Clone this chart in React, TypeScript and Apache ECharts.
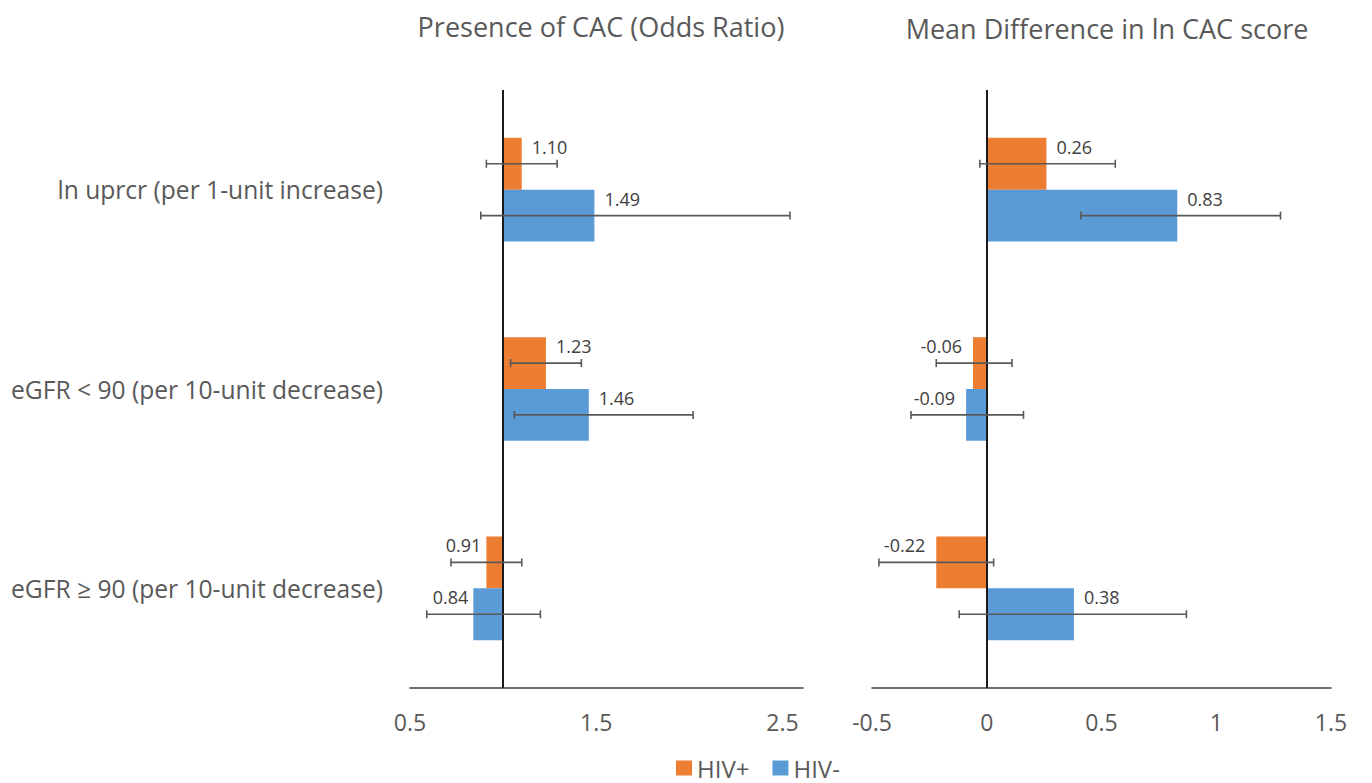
import React, { useEffect, useRef } from 'react';
import * as echarts from 'echarts';

// ---------- data ----------
const categories = [
  'ln uprcr (per 1-unit increase)',
  'eGFR < 90 (per 10-unit decrease)',
  'eGFR ≥ 90 (per 10-unit decrease)',
];
const seriesNames = ['HIV+', 'HIV-'];
const panelTitles = ['Presence of CAC (Odds Ratio)', 'Mean Difference in ln CAC score'];

// Odds ratios (left panel)
const orHivPos = [1.1, 1.23, 0.91];
const orHivPosLo = [0.91, 1.04, 0.72];
const orHivPosHi = [1.29, 1.42, 1.1];
const orHivNeg = [1.49, 1.46, 0.84];
const orHivNegLo = [0.88, 1.06, 0.59];
const orHivNegHi = [2.54, 2.02, 1.2];
const orTickLabels = [0.5, 1.5, 2.5];
const orBase = 1;

// Mean difference (right panel)
const mdHivPos = [0.26, -0.06, -0.22];
const mdHivPosLo = [-0.03, -0.22, -0.47];
const mdHivPosHi = [0.56, 0.11, 0.03];
const mdHivNeg = [0.83, -0.09, 0.38];
const mdHivNegLo = [0.41, -0.33, -0.12];
const mdHivNegHi = [1.28, 0.16, 0.87];
const mdTickLabels = [-0.5, 0, 0.5, 1, 1.5];

// ---------- styles ----------
const FONT = '"Open Sans", "Noto Sans", sans-serif';
const ORANGE = '#ED7D31';
const BLUE = '#5B9BD5';
const GRAY = '#595959';
const DARK = '#404040';

const renderErr = (_params: any, api: any) => {
  const cat = api.value(0);
  const lo = api.value(1);
  const hi = api.value(2);
  const g = api.value(3);
  const a = api.coord([lo, cat]);
  const b = api.coord([hi, cat]);
  const band = api.size([0, 1])[1];
  const y = a[1] + (g === 0 ? -1 : 1) * band * 0.13;
  const cap = 4;
  const style = { stroke: GRAY, lineWidth: 1.6 };
  return {
    type: 'group',
    children: [
      { type: 'line', shape: { x1: a[0], y1: y, x2: b[0], y2: y }, style },
      { type: 'line', shape: { x1: a[0], y1: y - cap, x2: a[0], y2: y + cap }, style },
      { type: 'line', shape: { x1: b[0], y1: y - cap, x2: b[0], y2: y + cap }, style },
    ],
  };
};

const barLabel = {
  show: true,
  fontSize: 18,
  color: DARK,
  fontFamily: FONT,
  offset: [0, -17],
};

const zeroLine = {
  silent: true,
  symbol: ['none', 'none'],
  label: { show: false },
  lineStyle: { color: '#1a1a1a', width: 2, type: 'solid' },
  data: [{ xAxis: 0 }],
};

function barData(vals: number[], base: number, negDist: number) {
  return vals.map((v) => ({
    value: v - base,
    label: { position: v >= base ? 'right' : 'left', distance: v >= base ? 10 : negDist },
  }));
}

function errData(lo: number[], hi: number[], base: number, g: number) {
  return lo.map((l, i) => [i, l - base, hi[i] - base, g]);
}

export default function App() {
  const ref = useRef<HTMLDivElement>(null);

  useEffect(() => {
    if (!ref.current) return;
    const chart = echarts.init(ref.current, undefined, { renderer: 'svg' });

    const xAxisCommon = {
      type: 'value',
      interval: 0.5,
      splitLine: { show: false },
      axisTick: { show: false },
      axisLine: { show: true, onZero: false, lineStyle: { color: DARK, width: 1.5 } },
    };
    const yAxisCommon = {
      type: 'category',
      data: categories,
      inverse: true,
      axisLine: { show: false },
      axisTick: { show: false },
    };

    const option: any = {
      animation: false,
      backgroundColor: '#ffffff',
      textStyle: { fontFamily: FONT },
      graphic: [
        {
          type: 'text',
          x: 601,
          y: 26,
          style: {
            text: panelTitles[0],
            fontSize: 27,
            fill: GRAY,
            fontFamily: FONT,
            align: 'center',
            verticalAlign: 'middle',
          },
        },
        {
          type: 'text',
          x: 1107,
          y: 28,
          style: {
            text: panelTitles[1],
            fontSize: 27,
            fill: GRAY,
            fontFamily: FONT,
            align: 'center',
            verticalAlign: 'middle',
          },
        },
      ],
      legend: {
        data: seriesNames,
        left: 676,
        top: 756,
        padding: 0,
        icon: 'rect',
        itemWidth: 16,
        itemHeight: 15,
        itemGap: 23,
        textStyle: { fontSize: 24, color: GRAY, fontFamily: FONT },
      },
      grid: [
        { left: 410, top: 90, width: 393, height: 598 },
        { left: 872, top: 90, width: 459, height: 598 },
      ],
      xAxis: [
        {
          ...xAxisCommon,
          gridIndex: 0,
          min: -0.5,
          max: 1.61,
          axisLabel: {
            margin: 22,
            fontSize: 23,
            color: GRAY,
            fontFamily: FONT,
            formatter: (val: number) => {
              const v = val + orBase;
              const t = orTickLabels.find((tk) => Math.abs(tk - v) < 1e-6);
              return t === undefined ? '' : String(t);
            },
          },
        },
        {
          ...xAxisCommon,
          gridIndex: 1,
          min: mdTickLabels[0],
          max: mdTickLabels[mdTickLabels.length - 1],
          axisLabel: {
            margin: 22,
            fontSize: 23,
            color: GRAY,
            fontFamily: FONT,
            formatter: (val: number) => String(Math.round(val * 10) / 10),
          },
        },
      ],
      yAxis: [
        {
          ...yAxisCommon,
          gridIndex: 0,
          axisLabel: { margin: 27, fontSize: 24.6, color: GRAY, fontFamily: FONT },
        },
        {
          ...yAxisCommon,
          gridIndex: 1,
          axisLabel: { show: false },
        },
      ],
      series: [
        {
          type: 'bar',
          name: seriesNames[0],
          xAxisIndex: 0,
          yAxisIndex: 0,
          barWidth: '26%',
          barGap: '0%',
          itemStyle: { color: ORANGE },
          data: barData(orHivPos, orBase, 5),
          label: { ...barLabel, formatter: (p: any) => orHivPos[p.dataIndex].toFixed(2) },
          markLine: zeroLine,
        },
        {
          type: 'bar',
          name: seriesNames[1],
          xAxisIndex: 0,
          yAxisIndex: 0,
          barWidth: '26%',
          barGap: '0%',
          itemStyle: { color: BLUE },
          data: barData(orHivNeg, orBase, 5),
          label: { ...barLabel, formatter: (p: any) => orHivNeg[p.dataIndex].toFixed(2) },
        },
        {
          type: 'bar',
          name: seriesNames[0],
          xAxisIndex: 1,
          yAxisIndex: 1,
          barWidth: '26%',
          barGap: '0%',
          itemStyle: { color: ORANGE },
          data: barData(mdHivPos, 0, 11),
          label: { ...barLabel, formatter: (p: any) => mdHivPos[p.dataIndex].toFixed(2) },
          markLine: zeroLine,
        },
        {
          type: 'bar',
          name: seriesNames[1],
          xAxisIndex: 1,
          yAxisIndex: 1,
          barWidth: '26%',
          barGap: '0%',
          itemStyle: { color: BLUE },
          data: barData(mdHivNeg, 0, 11),
          label: { ...barLabel, formatter: (p: any) => mdHivNeg[p.dataIndex].toFixed(2) },
        },
        {
          type: 'custom',
          name: 'errLeftPos',
          xAxisIndex: 0,
          yAxisIndex: 0,
          silent: true,
          z: 10,
          encode: { x: [1, 2], y: 0 },
          renderItem: renderErr,
          data: errData(orHivPosLo, orHivPosHi, orBase, 0),
        },
        {
          type: 'custom',
          name: 'errLeftNeg',
          xAxisIndex: 0,
          yAxisIndex: 0,
          silent: true,
          z: 10,
          encode: { x: [1, 2], y: 0 },
          renderItem: renderErr,
          data: errData(orHivNegLo, orHivNegHi, orBase, 1),
        },
        {
          type: 'custom',
          name: 'errRightPos',
          xAxisIndex: 1,
          yAxisIndex: 1,
          silent: true,
          z: 10,
          encode: { x: [1, 2], y: 0 },
          renderItem: renderErr,
          data: errData(mdHivPosLo, mdHivPosHi, 0, 0),
        },
        {
          type: 'custom',
          name: 'errRightNeg',
          xAxisIndex: 1,
          yAxisIndex: 1,
          silent: true,
          z: 10,
          encode: { x: [1, 2], y: 0 },
          renderItem: renderErr,
          data: errData(mdHivNegLo, mdHivNegHi, 0, 1),
        },
      ],
    };

    chart.setOption(option);
    return () => chart.dispose();
  }, []);

  return (
    <div
      ref={ref}
      style={{ position: 'fixed', left: 0, top: 0, width: 1372, height: 783, background: '#fff' }}
    />
  );
}
